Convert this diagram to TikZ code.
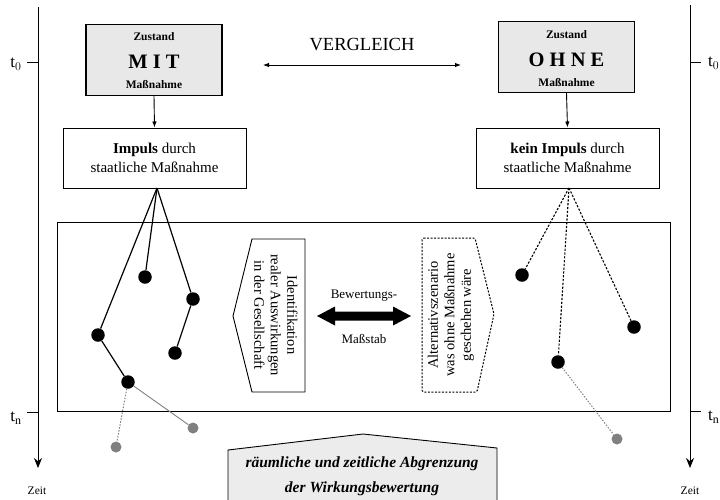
\documentclass[tikz,border=0pt]{standalone}
\usepackage{fontspec}
\setmainfont{Liberation Serif}
\usetikzlibrary{arrows.meta}
\begin{document}
\begin{tikzpicture}[x=1pt,y=-1pt,
  statebox/.style={draw, line width=1.4pt, fill=gray!18, minimum width=136pt, minimum height=71pt, inner sep=0pt},
  impbox/.style={draw, line width=1pt, fill=white, minimum width=183pt, minimum height=60pt, align=center, inner sep=0pt, font=\fontsize{15}{19}\selectfont},
  small/.style={font=\fontsize{11.5}{13}\selectfont\bfseries, inner sep=0pt},
  big/.style={font=\fontsize{20.5}{22}\selectfont\bfseries, inner sep=0pt},
  dot/.style={circle, fill=black, minimum size=13.5pt, inner sep=0pt},
  gdot/.style={circle, fill=black!50, minimum size=11pt, inner sep=0pt},
  tl/.style={font=\fontsize{17}{19}\selectfont, inner sep=0pt},
  zeit/.style={font=\fontsize{11.5}{13}\selectfont, inner sep=0pt},
  axis/.style={line width=1pt, -{Stealth[length=10pt,width=8pt]}},
  tip/.style={-{Latex[length=6pt,width=4.5pt]}, line width=0.9pt},
  dtree/.style={line width=1.1pt, dash pattern=on 2.2pt off 1.6pt},
  gline/.style={line width=0.9pt, black!50},
  gdotted/.style={line width=1pt, black!50, dash pattern=on 1.5pt off 1.5pt},
  vtext/.style={align=center, font=\fontsize{14.5}{16.5}\selectfont, inner sep=0pt},
]
\useasboundingbox (0,0) rectangle (720,499);

% time axes
\coordinate (la0) at (38,7);
\coordinate (la1) at (38,468);
\draw[axis] (la0) -- (la1);
\coordinate (lt0) at (27,62);
\coordinate (lt0b) at (38,62);
\draw[line width=0.9pt] (lt0) -- (lt0b);
\coordinate (ltn) at (27,412);
\coordinate (ltnb) at (38,412);
\draw[line width=0.9pt] (ltn) -- (ltnb);
\node[tl] (lt0l) at (16,64) {t$_0$};
\node[tl] (ltnl) at (16,418) {t$_\mathrm{n}$};
\node[zeit] (lzeit) at (37,491) {Zeit};

\coordinate (ra0) at (690,5);
\coordinate (ra1) at (690,468);
\draw[axis] (ra0) -- (ra1);
\coordinate (rt0) at (690,62);
\coordinate (rt0b) at (701,62);
\draw[line width=0.9pt] (rt0) -- (rt0b);
\coordinate (rtn) at (690,411);
\coordinate (rtnb) at (701,411);
\draw[line width=0.9pt] (rtn) -- (rtnb);
\node[tl, anchor=west] (rt0l) at (708,63) {t$_0$};
\node[tl, anchor=west] (rtnl) at (708,417) {t$_\mathrm{n}$};
\node[zeit] (rzeit) at (690,491) {Zeit};

% state boxes
\node[statebox] (mit) at (154,60) {};
\node[small] (mitz) at (154,37) {Zustand};
\node[big] (mitm) at (154,62) {M I T};
\node[small] (mitn) at (154,85) {Maßnahme};

\node[statebox] (ohne) at (566.5,57) {};
\node[small] (ohnez) at (566.5,35) {Zustand};
\node[big] (ohnem) at (566.5,60) {O H N E};
\node[small] (ohnen) at (566.5,83) {Maßnahme};

\node[font=\fontsize{18.5}{20}\selectfont, inner sep=0pt] (vgl) at (362,45) {VERGLEICH};
\coordinate (va) at (263,65);
\coordinate (vb) at (461,65);
\draw[tip, {Latex[length=6pt,width=4.5pt]}-{Latex[length=6pt,width=4.5pt]}] (va) -- (vb);

\node[impbox] (imp) at (154.5,158) {\textbf{Impuls} durch\\staatliche Maßnahme};
\node[impbox] (kimp) at (567.5,158) {\textbf{kein Impuls} durch\\staatliche Maßnahme};

\draw[tip] (mit.south) -- (imp.north);
\draw[tip] (ohne.south) -- (kimp.north);

% big frame
\node[draw, line width=1pt, minimum width=613pt, minimum height=189pt, inner sep=0pt] (frame) at (363.5,316.5) {};

% left pentagon
\draw[line width=0.9pt, fill=white] (252,239) -- (305,239) -- (305,392) -- (252,392) -- (233,316) -- cycle;
\node[vtext, rotate=-90] (ident) at (276,315) {Identifikation\\realer Auswirkungen\\in der Gesellschaft};

% right pentagon dashed
\draw[line width=1pt, dash pattern=on 2pt off 1.5pt, rounded corners=1.5pt] (422,238) -- (475,238) -- (494,314) -- (477,392) -- (422,392) -- cycle;
\node[vtext, rotate=90] (alt) at (451,315) {Alternativszenario\\was ohne Maßnahme\\geschehen wäre};

% double arrow
\fill (317,316) -- (335,306.5) -- (335,311.5) -- (393,311.5) -- (393,306.5) -- (411,316) -- (393,325.5) -- (393,320.5) -- (335,320.5) -- (335,325.5) -- cycle;
\node[font=\fontsize{13}{15}\selectfont, inner sep=0pt] (bew) at (364,296) {Bewertungs-};
\node[font=\fontsize{13}{15}\selectfont, inner sep=0pt] (mass) at (364,339) {Maßstab};

% left tree
\coordinate (lroot) at (157,188);
\node[dot] (lA) at (145,277) {};
\node[dot] (lB) at (193,299) {};
\node[dot] (lC) at (98,335) {};
\node[dot] (lD) at (175,353) {};
\node[dot] (lE) at (128,382) {};
\node[gdot] (lF) at (193,428) {};
\node[gdot] (lG) at (116,447) {};
\draw[line width=1.2pt] (lroot) -- (lA);
\draw[line width=1.2pt] (lroot) -- (lB);
\draw[line width=1.2pt] (lroot) -- (lC);
\draw[line width=1.2pt] (lB) -- (lD);
\draw[line width=1.2pt] (lC) -- (lE);
\draw[gline] (lE) -- (lF);
\draw[gdotted] (lE) -- (lG);

% right tree
\coordinate (rroot) at (569,188);
\node[dot] (rH) at (522,275) {};
\node[dot] (rI) at (634,327) {};
\node[dot] (rJ) at (558,362) {};
\node[gdot] (rK) at (617,439) {};
\draw[dtree] (rroot) -- (rH);
\draw[dtree] (rroot) -- (rI);
\draw[dtree] (rroot) -- (rJ);
\draw[gdotted] (rJ) -- (rK);

% bottom shape
\draw[line width=0.9pt, fill=gray!15] (228,450) -- (363,434) -- (497,448) -- (497,503) -- (228,503) -- cycle;
\node[align=center, font=\fontsize{15.5}{25}\selectfont\bfseries\itshape, inner sep=0pt] (abgr) at (362,476) {räumliche und zeitliche Abgrenzung\\der Wirkungsbewertung};
\end{tikzpicture}
\end{document}
